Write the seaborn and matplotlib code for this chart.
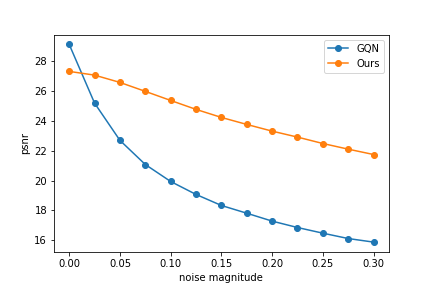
import seaborn as sns
import pandas as pd
from matplotlib import pyplot as plt

noise = [0.0, 0.025, 0.05, 0.075, 0.1, 0.125, 0.15, 0.175, 0.2, 0.225, 0.25, 0.275, 0.3]
gqn = [29.14, 25.2, 22.7, 21.08, 19.94, 19.07, 18.33, 17.81, 17.28, 16.85, 16.47, 16.11, 15.87]
ours = [27.33, 27.08, 26.59, 25.99, 25.38, 24.78, 24.24, 23.77, 23.32, 22.92, 22.49, 22.11, 21.75]

df = pd.DataFrame({
    'noise magnitude': noise * 2,
    'psnr': gqn + ours,
    'model': ['GQN'] * len(noise) + ['Ours'] * len(noise),
})

fig, ax = plt.subplots(figsize=(6, 4), dpi=72)
fig.subplots_adjust(bottom=0.125)
sns.lineplot(data=df, x='noise magnitude', y='psnr', hue='model', marker='o',
             markeredgecolor=None, markeredgewidth=1, markersize=6, ax=ax)
handles, labels = ax.get_legend_handles_labels()
ax.legend(handles, labels, loc='upper right')
plt.savefig('out.png', dpi=72)
